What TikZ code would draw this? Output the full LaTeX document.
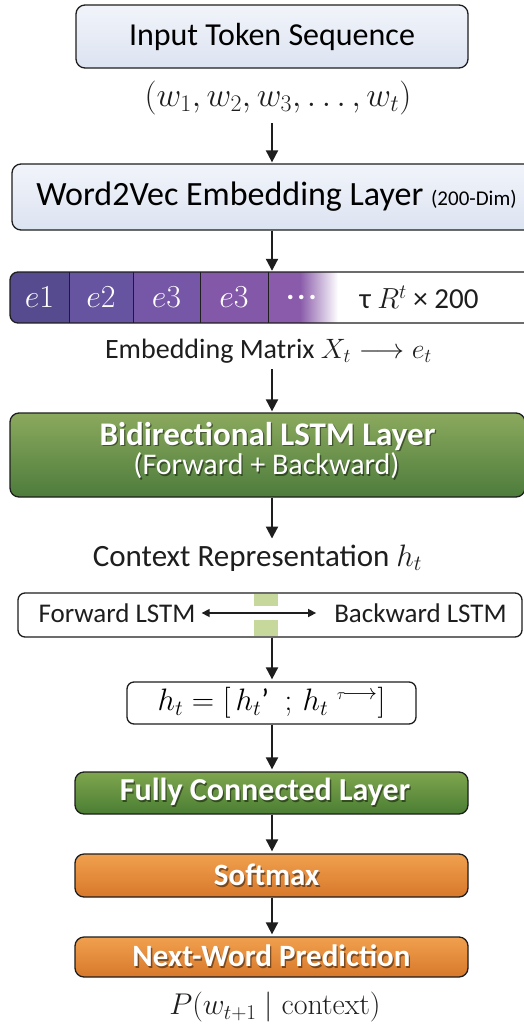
\RequirePackage{fix-cm}
\documentclass[tikz,border=0pt]{standalone}
\usepackage[no-math]{fontspec}
\setmainfont{Carlito}
\usetikzlibrary{arrows.meta,calc}
\definecolor{lbA}{HTML}{F1F4FA}
\definecolor{lbB}{HTML}{DCE3F1}
\definecolor{gA}{HTML}{8BA95E}
\definecolor{gB}{HTML}{4D7C3B}
\definecolor{fA}{HTML}{7FA64E}
\definecolor{fB}{HTML}{4A7D33}
\definecolor{oA}{HTML}{F0A04E}
\definecolor{oB}{HTML}{D8782B}
\definecolor{pA}{HTML}{574B8F}
\definecolor{pB}{HTML}{6654A0}
\definecolor{pC}{HTML}{7656A7}
\definecolor{pD}{HTML}{8358A9}
\definecolor{pE}{HTML}{8A5BAA}
\definecolor{lg}{HTML}{C6D89C}
\definecolor{ink}{HTML}{1E1E1E}
\newcommand\fs[2]{\fontsize{#1}{#2}\selectfont}
\newcommand\shtext[4]{%
  \node[text=black, opacity=.45, font=#3, inner sep=0pt] at ($(#2)+(1.3,1.5)$) {#4};
  \node[text=white, font=#3, inner sep=0pt] (#1) at (#2) {#4};}
\begin{document}
\begin{tikzpicture}[x=1pt,y=-1pt,
  box/.style={draw=ink, line width=1.3pt, rounded corners=9pt, inner sep=0pt},
  arr/.style={-{Triangle[length=12pt,width=12pt]}, line width=2pt, draw=ink},
  darr/.style={{Triangle[length=8pt,width=8pt]}-{Triangle[length=8pt,width=8pt]}, line width=1.5pt, draw=ink},
  cell/.style={inner sep=0pt, minimum height=51pt, text=white, font=\fs{32}{36}},
  lbl/.style={inner sep=0pt, text=ink}
]
\useasboundingbox (0,0) rectangle (523,1028);
\fill[white] (0,0) rectangle (523,1028);
\coordinate (ax) at (272,0);

\node[box, top color=lbA, bottom color=lbB, minimum width=392pt, minimum height=63pt, font=\fs{32}{36}] (inp) at (272,36.5) {Input Token Sequence};
\node[lbl, font=\fs{34}{38}] (seq) at (278,98) {$(w_1, w_2, w_3, \ldots, w_t)$};
\node[box, top color=lbA, bottom color=lbB, minimum width=529pt, minimum height=66pt, font=\fs{34}{38}] (w2v) at (276.5,197) {Word2Vec Embedding Layer {\fs{21}{24}(200-Dim)}};

% embedding bar
\node[inner sep=0pt, minimum width=535pt, minimum height=51pt] (emb) at (277.5,297.5) {};
\begin{scope}
\clip[rounded corners=8pt] (10,272) rectangle (545,323);
\fill[white] (10,272) rectangle (545,323);
\node[cell, fill=pA, minimum width=59pt] (e1) at (39.5,297.5) {$e1$};
\node[cell, fill=pB, minimum width=64pt] (e2) at (101,297.5) {$e2$};
\node[cell, fill=pC, minimum width=67pt] (e3) at (166.5,297.5) {$e3$};
\node[cell, fill=pD, minimum width=68pt] (e4) at (234,297.5) {$e3$};
\shade[left color=pE, right color=white] (300,272) rectangle (338,323);
\fill[pE] (268,272) rectangle (300.5,323);
\node[cell, minimum width=67pt, font=\bfseries\fs{30}{34}] (e5) at (301.5,297.5) {.\hspace{3pt}.\hspace{3pt}.};
\end{scope}
\draw[ink, line width=1.3pt, rounded corners=8pt] (10,272) rectangle (545,323);
\foreach \c in {e1,e2,e3,e4} \draw[ink, line width=0.9pt] (\c.north east) -- (\c.south east);
\node[lbl, font=\fs{29}{34}] (tau) at (419,297.5) {τ $R^t$ × 200};

\node[lbl, font=\fs{28}{32}] (embt) at (268.5,351) {Embedding Matrix $X_t \longrightarrow e_t$};

\node[box, top color=gA, bottom color=gB, minimum width=515pt, minimum height=84pt] (bil) at (267.5,455) {};
\shtext{bilA}{267.5,436}{\bfseries\fs{33}{38}}{Bidirectional LSTM Layer}
\shtext{bilB}{266.5,466}{\fs{30}{36}}{(Forward + Backward)}

\node[lbl, font=\fs{31}{36}] (ctx) at (257.5,558) {Context Representation $h_t$};

\node[box, fill=white, rounded corners=7pt, minimum width=504pt, minimum height=44pt] (fb) at (270,615) {};
\fill[lg] (254,593.7) rectangle (278,636.3);
\fill[white] (254,606) rectangle (278,620);
\node[lbl, font=\fs{27}{32}] (fwd) at (117,613) {Forward LSTM};
\node[lbl, font=\fs{27}{32}] (bwd) at (420.5,613) {Backward LSTM};
\draw[darr, shorten <=6pt, shorten >=18pt] (fwd.east) -- (bwd.west);

\node[box, fill=white, rounded corners=7pt, minimum width=289pt, minimum height=42pt, font=\fs{31}{36}] (hb) at (271.5,703) {$h_t = [\, h_t$’\enspace$;\, h_t\;{}^{\scriptscriptstyle\tau}{}^{\!\longrightarrow}]$};

\node[box, top color=fA, bottom color=fB, minimum width=393pt, minimum height=42pt] (fc) at (271.5,793) {};
\shtext{fct}{265,792}{\bfseries\fs{32}{36}}{Fully Connected Layer}
\node[box, top color=oA, bottom color=oB, minimum width=393pt, minimum height=43pt] (sm) at (271.5,875.5) {};
\shtext{smt}{266.7,875}{\bfseries\fs{31}{36}}{Softmax}
\node[box, top color=oA, bottom color=oB, minimum width=393pt, minimum height=40pt] (nwp) at (271.5,957) {};
\shtext{nwpt}{271.5,956}{\bfseries\fs{31}{36}}{Next-Word Prediction}
\node[lbl, font=\fs{30}{34}] (prob) at (275,1007) {$P(w_{t+1} \mid \mathrm{context})$};

\draw[arr, shorten <=8pt, shorten >=1pt] (seq.south -| ax) -- (w2v.north -| ax);
\draw[arr, shorten >=1pt] (w2v.south -| ax) -- (emb.north -| ax);
\draw[arr, shorten <=6pt, shorten >=1pt] (embt.south -| ax) -- (bil.north -| ax);
\draw[arr, shorten >=6pt] (bil.south -| ax) -- (ctx.north -| ax);
\draw[arr, shorten >=2pt] (fb.south -| ax) -- (hb.north -| ax);
\draw[arr, shorten >=2pt] (hb.south -| ax) -- (fc.north -| ax);
\draw[arr, shorten >=2pt] (fc.south -| ax) -- (sm.north -| ax);
\draw[arr, shorten >=2pt] (sm.south -| ax) -- (nwp.north -| ax);
\end{tikzpicture}
\end{document}
